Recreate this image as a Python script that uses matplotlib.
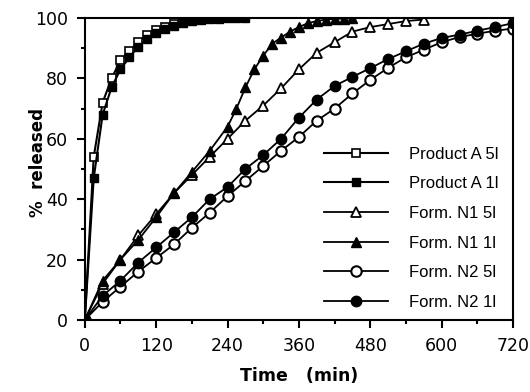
import numpy as np
import matplotlib.pyplot as plt
from matplotlib.ticker import MultipleLocator

# Product A (sampled every 15 min)
t_a = [0, 15, 30, 45, 60, 75, 90, 105, 120, 135, 150, 165, 180, 195, 210, 225, 240, 255, 270]
a_5l = [0, 54, 72, 80, 86, 89, 92, 94.5, 96, 97, 98, 98.6, 99.2, 99.5, 99.7, 99.8, 100, 100, 100]
a_1l = [0, 47, 68, 77, 83, 87, 90.5, 93, 95, 96.5, 97.5, 98.3, 99, 99.3, 99.6, 99.8, 100, 100, 100]

# Form. N1
t_n1_5l = [0, 30, 60, 90, 120, 150, 180, 210, 240, 270, 300, 330, 360, 390, 420, 450, 480, 510, 540, 570]
n1_5l = [0, 12, 20, 28, 35, 42, 48, 54, 60, 66, 71, 76.7, 83, 88.5, 92, 95.5, 97, 98, 99, 99.5]
t_n1_1l = [0, 30, 60, 90, 120, 150, 180, 210, 240, 255, 270, 285, 300, 315, 330, 345, 360, 375, 390, 405, 420, 435, 450]
n1_1l = [0, 13, 20, 26.5, 34, 42, 49, 56, 64, 70, 77, 83, 87.5, 91.5, 93.5, 95.5, 97, 98.3, 99, 99.5, 99.7, 99.8, 100]

# Form. N2
t_n2 = [0, 30, 60, 90, 120, 150, 180, 210, 240, 270, 300, 330, 360, 390, 420, 450, 480, 510, 540, 570, 600, 630, 660, 690, 720]
n2_5l = [0, 6, 11, 16, 20.5, 25, 30.5, 35.5, 41, 46, 51, 56, 60.6, 66, 70, 75, 79.5, 83.5, 87, 89.5, 92, 93.7, 94.8, 95.8, 96.5]
n2_1l = [0, 8, 13, 19, 24, 29, 34, 40, 44, 50, 54.6, 60, 67, 73, 77.5, 80.5, 83.4, 86.4, 89, 91.5, 93.4, 94.5, 95.8, 97, 98.3]

plt.rcParams['font.family'] = ['Liberation Sans', 'DejaVu Sans']

fig = plt.figure(figsize=(5.3, 3.92), dpi=100)
ax = fig.add_axes([0.160, 0.184, 0.808, 0.770])

ax.plot(t_a, a_5l, color='black', lw=1.5, marker='s', ms=6, mfc='white', mec='black', mew=1.2, label='Product A 5l')
ax.plot(t_a, a_1l, color='black', lw=1.5, marker='s', ms=6, mfc='black', mec='black', label='Product A 1l')
ax.plot(t_n1_5l, n1_5l, color='black', lw=1.3, marker='^', ms=7, mfc='white', mec='black', mew=1.3, label='Form. N1 5l')
ax.plot(t_n1_1l, n1_1l, color='black', lw=1.3, marker='^', ms=7, mfc='black', mec='black', label='Form. N1 1l')
ax.plot(t_n2, n2_5l, color='black', lw=1.3, marker='o', ms=7.5, mfc='white', mec='black', mew=1.5, label='Form. N2 5l')
ax.plot(t_n2, n2_1l, color='black', lw=1.3, marker='o', ms=7.5, mfc='black', mec='black', label='Form. N2 1l')

ax.set_xlim(0, 720)
ax.set_ylim(0, 100)
ax.xaxis.set_major_locator(MultipleLocator(120))
ax.xaxis.set_minor_locator(MultipleLocator(60))
ax.yaxis.set_major_locator(MultipleLocator(20))
ax.yaxis.set_minor_locator(MultipleLocator(10))
ax.tick_params(which='major', direction='out', length=6, width=1.5, labelsize=12.5, pad=6)
ax.tick_params(which='minor', direction='out', length=3, width=1.5)
for lab in ax.get_xticklabels() + ax.get_yticklabels():
    lab.set_family('DejaVu Sans')
for s in ax.spines.values():
    s.set_linewidth(1.5)

ax.set_xlabel('Time   (min)', fontsize=12.5, fontweight='bold', family='DejaVu Sans')
ax.set_ylabel('%  released', fontsize=12, fontweight='bold', family='DejaVu Sans')
ax.xaxis.set_label_coords(0.50, -0.157)
ax.yaxis.set_label_coords(-0.088, 0.52)

leg = ax.legend(loc='lower right', frameon=False, fontsize=12, handlelength=3.85,
                labelspacing=0.88, handletextpad=1.25, borderaxespad=0.2,
                bbox_to_anchor=(0.99, 0.0))

fig.savefig('out.png', dpi=100)
